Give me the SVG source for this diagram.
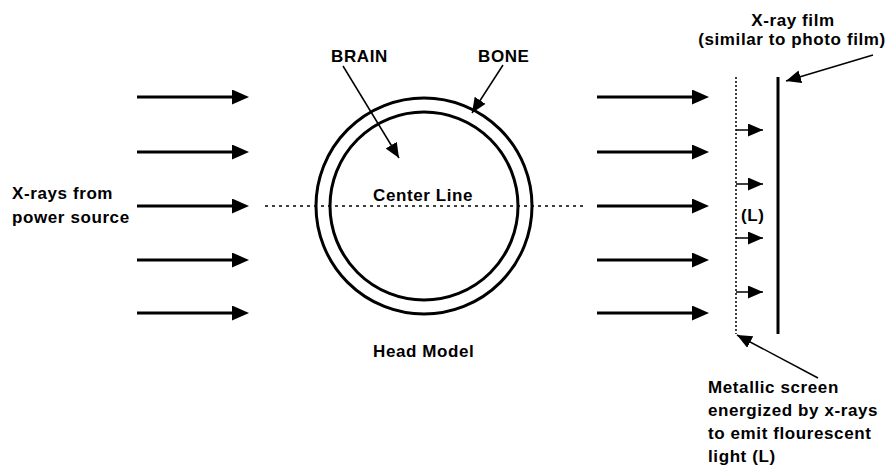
<svg xmlns="http://www.w3.org/2000/svg" width="890" height="470" viewBox="0 0 890 470">
<style>
text{font-family:"Liberation Sans",Arial,sans-serif;font-weight:bold;font-size:17px;letter-spacing:0.6px;fill:#000}
.big{stroke:#000;stroke-width:3;fill:none}
.thin{stroke:#000;stroke-width:1.5;fill:none}
.dot{stroke:#000;stroke-width:1.5;fill:none;stroke-dasharray:3 4}
.vdot{stroke:#000;stroke-width:1.5;fill:none;stroke-dasharray:2 2}
</style>
<defs>
<marker id="bigHead" markerUnits="userSpaceOnUse" markerWidth="18" markerHeight="16" refX="0" refY="7.5" orient="auto">
<path d="M0,0 L17,7.5 L0,15 z" fill="#000"/>
</marker>
<marker id="smallHead" markerUnits="userSpaceOnUse" markerWidth="17" markerHeight="15" refX="15" refY="6.5" orient="auto">
<path d="M0,0 L15,6.5 L0,13 z" fill="#000"/>
</marker>
</defs>

<g id="source-label">
<text x="12" y="199">X-rays from</text>
<text x="12" y="223">power source</text>
</g>

<g id="head-model">
<circle cx="424" cy="206" r="108" class="big"/>
<circle cx="424" cy="206" r="94" class="big"/>
<text x="373" y="201">Center Line</text>
<text x="373" y="357">Head Model</text>
</g>

<g id="brain-label"><text x="331" y="62">BRAIN</text></g>
<g id="bone-label"><text x="478" y="62">BONE</text></g>

<g id="film">
<line x1="778" y1="77" x2="778" y2="334" class="big"/>
<text x="793" y="26" text-anchor="middle">X-ray film</text>
<text x="792" y="45" text-anchor="middle">(similar to photo film)</text>
</g>

<g id="screen">
<line x1="736" y1="77" x2="736" y2="334" class="vdot"/>
<text x="741" y="221">(L)</text>
<text x="708" y="393">Metallic screen</text>
<text x="708" y="416">energized by x-rays</text>
<text x="708" y="439">to emit flourescent</text>
<text x="708" y="462">light (L)</text>
</g>

<g id="connectors">
<line x1="265" y1="206" x2="583" y2="206" class="dot"/>
<line x1="137" y1="97" x2="232" y2="97" class="big" marker-end="url(#bigHead)"/>
<line x1="137" y1="152" x2="232" y2="152" class="big" marker-end="url(#bigHead)"/>
<line x1="137" y1="206" x2="232" y2="206" class="big" marker-end="url(#bigHead)"/>
<line x1="137" y1="260" x2="232" y2="260" class="big" marker-end="url(#bigHead)"/>
<line x1="137" y1="313" x2="232" y2="313" class="big" marker-end="url(#bigHead)"/>
<line x1="597" y1="97" x2="692" y2="97" class="big" marker-end="url(#bigHead)"/>
<line x1="597" y1="152" x2="692" y2="152" class="big" marker-end="url(#bigHead)"/>
<line x1="597" y1="206" x2="692" y2="206" class="big" marker-end="url(#bigHead)"/>
<line x1="597" y1="260" x2="692" y2="260" class="big" marker-end="url(#bigHead)"/>
<line x1="597" y1="313" x2="692" y2="313" class="big" marker-end="url(#bigHead)"/>
<line x1="736" y1="130" x2="763" y2="130" class="thin" marker-end="url(#smallHead)"/>
<line x1="736" y1="184" x2="763" y2="184" class="thin" marker-end="url(#smallHead)"/>
<line x1="736" y1="238" x2="763" y2="238" class="thin" marker-end="url(#smallHead)"/>
<line x1="736" y1="292" x2="763" y2="292" class="thin" marker-end="url(#smallHead)"/>
<line x1="343" y1="66" x2="399" y2="158" class="thin" marker-end="url(#smallHead)"/>
<line x1="503" y1="65" x2="472" y2="113" class="thin" marker-end="url(#smallHead)"/>
<line x1="873" y1="55" x2="786" y2="81" class="thin" marker-end="url(#smallHead)"/>
<line x1="818" y1="378" x2="737" y2="335" class="thin" marker-end="url(#smallHead)"/>
</g>
</svg>
